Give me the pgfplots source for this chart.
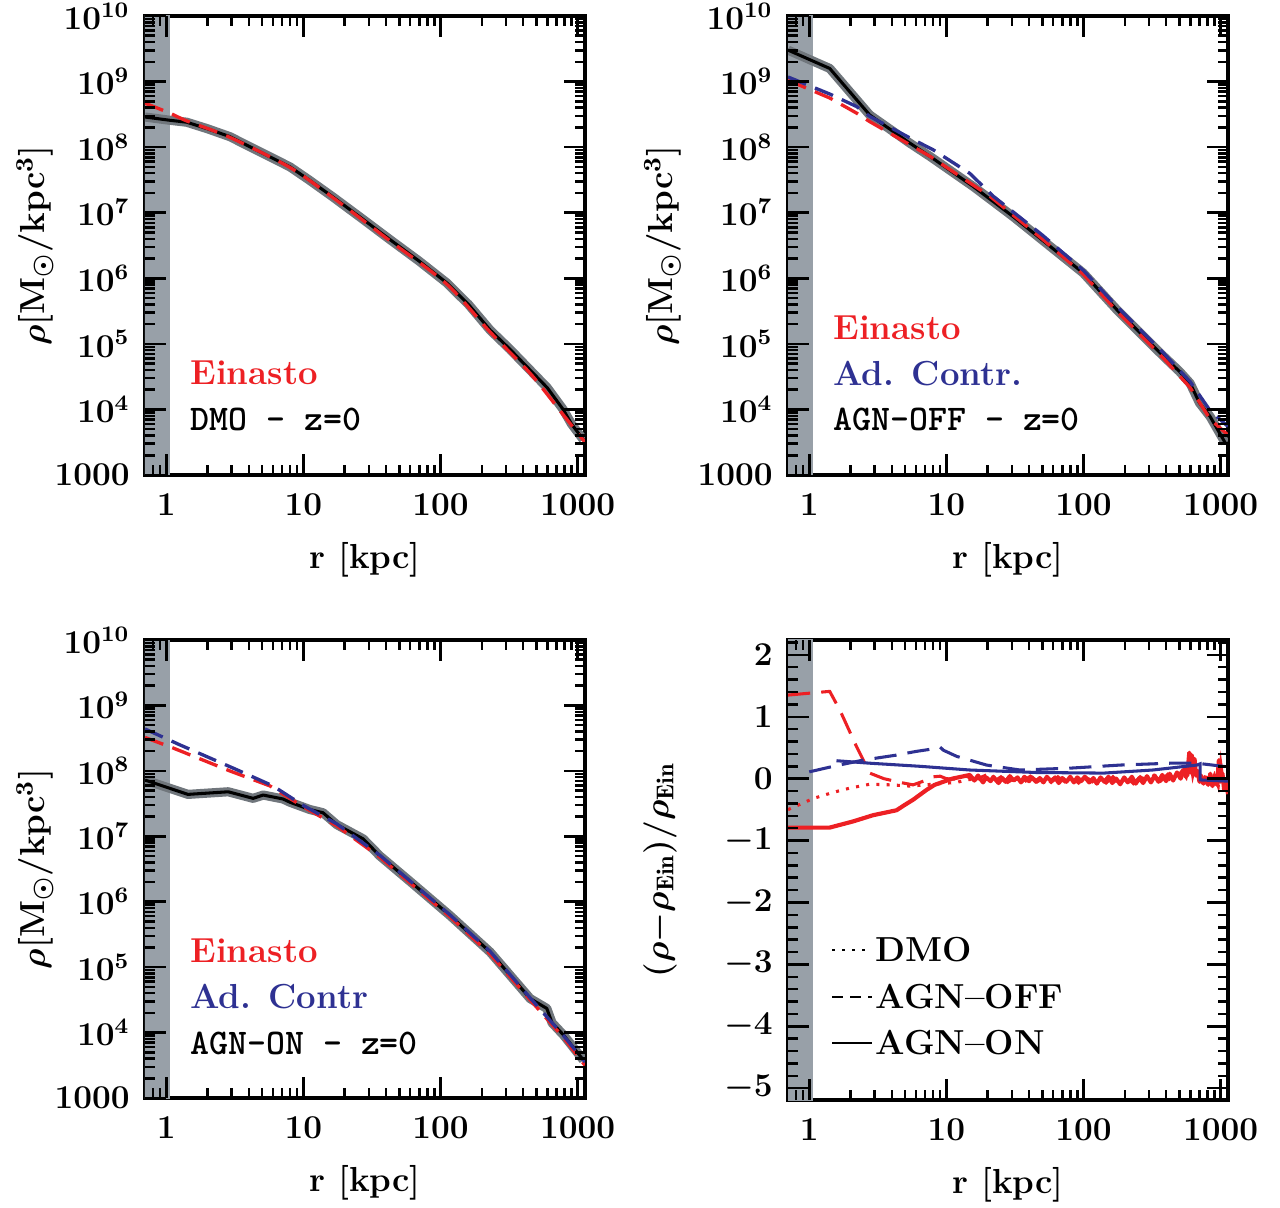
\documentclass[border=0pt]{standalone}
\usepackage{fontspec}
\usepackage{pgfplots}
\usepackage{pgfplotstable}
\pgfplotsset{compat=1.18}

\definecolor{myred}{RGB}{237,32,36}
\definecolor{myblue}{RGB}{46,49,146}
\definecolor{bandgray}{RGB}{152,160,168}
\definecolor{halogray}{RGB}{112,118,124}

\newcommand{\lbl}{\fontsize{12.5}{14}\selectfont\bfseries\boldmath}
\newcommand{\tkl}{\fontsize{12}{14}\selectfont\bfseries\boldmath}
\newcommand{\mon}{\fontsize{13}{15}\selectfont\ttfamily\bfseries}

\pgfplotsset{
  every axis/.append style={
    scale only axis, width=158.4pt,
    xmin=0.7, xmax=1130,
    xtick={1,10,100,1000}, xticklabels={1,10,100,1000},
    tick align=inside,
    major tick length=7.5pt, minor tick length=3.6pt,
    every tick/.style={black, line width=0.9pt},
    axis line style={line width=1.1pt},
    tick label style={font=\tkl},
    xticklabel style={yshift=-3pt},
    yticklabel style={xshift=-2pt},
    label style={font=\lbl},
    xlabel={r [kpc]},
    xlabel style={at={(axis description cs:0.5,-0.185)}, anchor=center},
  },
}
\tikzset{
  tk/.style={black, line width=0.9pt},
  rsHalo/.style={draw=halogray, line width=3.3pt, line join=round},
  rsBlk/.style={draw=black, line width=1.1pt, line join=round},
  rsRed/.style={draw=myred, line width=1.2pt, dash pattern=on 7pt off 3.5pt},
  rsBlue/.style={draw=myblue, line width=1.2pt, dash pattern=on 7pt off 3.5pt},
}

% tick marks on bottom and top edges (arguments: ymin, ymax)
\newcommand{\xticksall}[2]{%
  \pgfplotsinvokeforeach{1,10,100,1000}{%
    \draw[tk] (axis cs:##1,#1) -- ([yshift=7.5pt]axis cs:##1,#1);
    \draw[tk] (axis cs:##1,#2) -- ([yshift=-7.5pt]axis cs:##1,#2);}%
  \pgfplotsinvokeforeach{0.8,0.9,2,3,4,5,6,7,8,9,20,30,40,50,60,70,80,90,200,300,400,500,600,700,800,900}{%
    \draw[tk] (axis cs:##1,#1) -- ([yshift=3.6pt]axis cs:##1,#1);
    \draw[tk] (axis cs:##1,#2) -- ([yshift=-3.6pt]axis cs:##1,#2);}%
}
% tick marks on left and right edges of the log-density panels
\newcommand{\ylogticks}{%
  \pgfplotsinvokeforeach{1e3,1e4,1e5,1e6,1e7,1e8,1e9,1e10}{%
    \draw[tk] (axis cs:0.7,##1) -- ([xshift=7.5pt]axis cs:0.7,##1);
    \draw[tk] (axis cs:1130,##1) -- ([xshift=-7.5pt]axis cs:1130,##1);}%
  \pgfplotsinvokeforeach{2e3,3e3,4e3,5e3,6e3,7e3,8e3,9e3,
                 2e4,3e4,4e4,5e4,6e4,7e4,8e4,9e4,
                 2e5,3e5,4e5,5e5,6e5,7e5,8e5,9e5,
                 2e6,3e6,4e6,5e6,6e6,7e6,8e6,9e6,
                 2e7,3e7,4e7,5e7,6e7,7e7,8e7,9e7,
                 2e8,3e8,4e8,5e8,6e8,7e8,8e8,9e8,
                 2e9,3e9,4e9,5e9,6e9,7e9,8e9,9e9}{%
    \draw[tk] (axis cs:0.7,##1) -- ([xshift=3.6pt]axis cs:0.7,##1);
    \draw[tk] (axis cs:1130,##1) -- ([xshift=-3.6pt]axis cs:1130,##1);}%
}
% tick marks on left and right edges of the residual panel
\newcommand{\ylinticks}{%
  \pgfplotsinvokeforeach{-5,-4,-3,-2,-1,0,1,2}{%
    \draw[tk] (axis cs:0.7,##1) -- ([xshift=7.5pt]axis cs:0.7,##1);
    \draw[tk] (axis cs:1130,##1) -- ([xshift=-7.5pt]axis cs:1130,##1);}%
  \pgfplotsinvokeforeach{-4.8,-4.6,-4.4,-4.2,-3.8,-3.6,-3.4,-3.2,-2.8,-2.6,-2.4,-2.2,-1.8,-1.6,-1.4,-1.2,-0.8,-0.6,-0.4,-0.2,0.2,0.4,0.6,0.8,1.2,1.4,1.6,1.8,2.2}{%
    \draw[tk] (axis cs:0.7,##1) -- ([xshift=3.6pt]axis cs:0.7,##1);
    \draw[tk] (axis cs:1130,##1) -- ([xshift=-3.6pt]axis cs:1130,##1);}%
}

% ---------- data ----------
\pgfplotstableread{
r rho
0.70 2.88e8
1.06 2.57e8
1.41 2.40e8
2.0 1.905e8
2.91 1.445e8
4.5 9.12e7
7.97 5.01e7
11.0 3.16e7
16.4 1.74e7
26 8.51e6
42.8 3.89e6
70 1.82e6
111 8.51e5
160 3.98e5
230 1.62e5
320 8.32e4
450 3.98e4
600 2.14e4
783 1.00e4
900 6.03e3
1097 3.47e3
}\dmoblack
\pgfplotstableread{
r rho
0.70 4.68e8
1.06 3.31e8
1.41 2.51e8
2.91 1.41e8
7.97 4.90e7
16.4 1.70e7
42.8 3.72e6
111 8.13e5
230 1.51e5
450 3.55e4
783 8.32e3
1130 3.16e3
}\dmored
\pgfplotstableread{
r rho
0.70 3.02e9
1.41 1.585e9
2.76 3.09e8
5.42 1.148e8
7.58 7.24e7
15.7 2.51e7
30.7 8.71e6
60 2.82e6
99.7 1.20e6
175 3.31e5
383 6.46e4
500 3.80e4
598 2.51e4
700 1.26e4
838 7.76e3
1079 3.09e3
}\offblack
\pgfplotstableread{
r rho
0.70 1.047e9
1.41 5.62e8
2.21 3.31e8
2.76 2.45e8
7.6 7.24e7
20.8 1.78e7
50 3.98e6
99.7 1.148e6
175 3.16e5
383 6.03e4
600 2.14e4
838 7.08e3
1130 4.07e3
}\offred
\pgfplotstableread{
r rho
0.70 1.175e9
1.41 6.46e8
2.21 4.17e8
2.76 2.95e8
5.42 1.38e8
8.0 9.12e7
14.8 3.98e7
22 1.78e7
50 4.57e6
99.7 1.318e6
175 3.72e5
383 7.24e4
600 2.63e4
838 9.55e3
1130 5.50e3
}\offblue
\pgfplotstableread{
r rho
0.70 7.24e7
1.44 4.37e7
2.83 4.79e7
4.3 3.80e7
5.09 4.27e7
7.1 3.72e7
8.0 3.31e7
11.1 2.57e7
13.9 2.29e7
17.5 1.51e7
27.3 9.12e6
36.1 5.01e6
60 2.04e6
117 6.17e5
230 1.70e5
450 3.31e4
595 2.34e4
650 1.41e4
790 9.12e3
1100 3.80e3
}\onblack
\pgfplotstableread{
r rho
0.70 3.24e8
1.12 2.24e8
2.9 1.0e8
5.7 5.89e7
10 2.82e7
17.5 1.445e7
36.1 4.79e6
117 5.89e5
230 1.585e5
450 3.16e4
790 8.32e3
1130 3.16e3
}\onred
\pgfplotstableread{
r rho
0.70 4.37e8
1.25 2.51e8
3.25 1.047e8
6.0 5.89e7
10 2.95e7
17.5 1.55e7
36.1 5.13e6
117 6.31e5
230 1.74e5
450 3.39e4
790 8.91e3
1130 3.55e3
}\onblue

\begin{document}
\begin{tikzpicture}
\path[use as bounding box] (0,0) rectangle (460.8pt,434.52pt);

% ================= top left : DMO =================
\begin{loglogaxis}[height=165.24pt,
  at={(52.2pt,263.52pt)}, anchor=south west,
  ymin=1000, ymax=1e10,
  ytick={1e3,1e4,1e5,1e6,1e7,1e8,1e9,1e10},
  yticklabels={$1000$,$10^{4}$,$10^{5}$,$10^{6}$,$10^{7}$,$10^{8}$,$10^{9}$,$10^{10}$},
  ylabel={$\rho$[M$_{\odot}$/kpc$^{3}$]},
  ylabel style={at={(axis description cs:-0.25,0.5)}, anchor=center}]
\addplot[fill=bandgray, draw=none, forget plot] coordinates {(0.5,100) (1.06,100) (1.06,1e11) (0.5,1e11)} -- cycle;
\addplot[rsHalo, forget plot] table[x=r,y=rho] {\dmoblack};
\addplot[rsBlk] table[x=r,y=rho] {\dmoblack};
\addplot[rsRed, smooth] table[x=r,y=rho] {\dmored};
\xticksall{1000}{1e10}
\ylogticks
\node[anchor=west, font=\lbl, text=myred, inner sep=0pt] at (rel axis cs:0.102,0.222) {Einasto};
\node[anchor=west, font=\mon, inner sep=0pt] at (rel axis cs:0.102,0.120) {DMO – z=0};
\end{loglogaxis}

% ================= top right : AGN-OFF =================
\begin{loglogaxis}[height=165.24pt,
  at={(283.68pt,263.52pt)}, anchor=south west,
  ymin=1000, ymax=1e10,
  ytick={1e3,1e4,1e5,1e6,1e7,1e8,1e9,1e10},
  yticklabels={$1000$,$10^{4}$,$10^{5}$,$10^{6}$,$10^{7}$,$10^{8}$,$10^{9}$,$10^{10}$},
  ylabel={$\rho$[M$_{\odot}$/kpc$^{3}$]},
  ylabel style={at={(axis description cs:-0.285,0.5)}, anchor=center}]
\addplot[fill=bandgray, draw=none, forget plot] coordinates {(0.5,100) (1.06,100) (1.06,1e11) (0.5,1e11)} -- cycle;
\addplot[rsHalo, forget plot] table[x=r,y=rho] {\offblack};
\addplot[rsBlk] table[x=r,y=rho] {\offblack};
\addplot[rsRed] table[x=r,y=rho] {\offred};
\addplot[rsBlue] table[x=r,y=rho] {\offblue};
\xticksall{1000}{1e10}
\ylogticks
\node[anchor=west, font=\lbl, text=myred, inner sep=0pt] at (rel axis cs:0.102,0.320) {Einasto};
\node[anchor=west, font=\lbl, text=myblue, inner sep=0pt] at (rel axis cs:0.102,0.220) {Ad. Contr.};
\node[anchor=west, font=\mon, inner sep=0pt] at (rel axis cs:0.102,0.120) {AGN–OFF – z=0};
\end{loglogaxis}

% ================= bottom left : AGN-ON =================
\begin{loglogaxis}[height=164.88pt,
  at={(52.2pt,39.24pt)}, anchor=south west,
  ymin=1000, ymax=1e10,
  ytick={1e3,1e4,1e5,1e6,1e7,1e8,1e9,1e10},
  yticklabels={$1000$,$10^{4}$,$10^{5}$,$10^{6}$,$10^{7}$,$10^{8}$,$10^{9}$,$10^{10}$},
  ylabel={$\rho$[M$_{\odot}$/kpc$^{3}$]},
  ylabel style={at={(axis description cs:-0.25,0.5)}, anchor=center}]
\addplot[fill=bandgray, draw=none, forget plot] coordinates {(0.5,100) (1.06,100) (1.06,1e11) (0.5,1e11)} -- cycle;
\addplot[rsHalo, forget plot] table[x=r,y=rho] {\onblack};
\addplot[rsBlk] table[x=r,y=rho] {\onblack};
\addplot[rsRed] table[x=r,y=rho] {\onred};
\addplot[rsBlue] table[x=r,y=rho] {\onblue};
\xticksall{1000}{1e10}
\ylogticks
\node[anchor=west, font=\lbl, text=myred, inner sep=0pt] at (rel axis cs:0.102,0.321) {Einasto};
\node[anchor=west, font=\lbl, text=myblue, inner sep=0pt] at (rel axis cs:0.102,0.221) {Ad. Contr};
\node[anchor=west, font=\mon, inner sep=0pt] at (rel axis cs:0.102,0.120) {AGN–ON – z=0};
\end{loglogaxis}

% ================= bottom right : residuals =================
\begin{semilogxaxis}[height=165.6pt,
  at={(283.68pt,38.52pt)}, anchor=south west,
  ymin=-5.19, ymax=2.24, ytick={-5,-4,-3,-2,-1,0,1,2}, minor y tick num=4,
  ylabel={$(\rho{-}\rho_{\mathrm{Ein}})/\rho_{\mathrm{Ein}}$},
  ylabel style={at={(axis description cs:-0.291,0.5)}, anchor=center}]
\addplot[fill=bandgray, draw=none, forget plot] coordinates {(0.5,-6) (1.06,-6) (1.06,3) (0.5,3)} -- cycle;
% DMO (dotted red)
\addplot[myred, line width=1.1pt, dash pattern=on 1.1pt off 2.6pt] coordinates {
(0.70,-0.50)(1.07,-0.32)(1.5,-0.22)(2.0,-0.15)(2.76,-0.09)(4,-0.10)(5.42,-0.12)(7,-0.10)(9,-0.08)(11.9,-0.06)(14,-0.02)(17,0.0)
(20,-0.04)(23,0.02)(27,-0.05)(31,0.03)(36,-0.06)(42,0.01)(49,-0.05)(57,0.03)(66,-0.06)(77,0.02)(90,-0.05)(105,0.02)(122,-0.07)(142,0.02)(165,-0.06)(192,0.01)(224,-0.07)(260,0.03)(302,-0.05)(350,0.04)(407,-0.04)(470,0.08)(545,0.0)(610,0.2)(660,0.0)(720,-0.05)(800,0.04)(880,-0.1)(960,0.02)(1050,-0.12)(1130,-0.15)};
% AGN-OFF (dashed red)
\addplot[myred, line width=1.1pt, dash pattern=on 8pt off 4pt] coordinates {
(0.70,1.35)(1.41,1.41)(1.67,1.11)(2.21,0.52)(2.76,0.09)(3.5,0.0)(4.84,-0.07)(5.72,-0.10)(7.0,-0.03)(8.0,0.03)(9.0,0.04)(10,0.0)(11.9,-0.01)(14,0.04)(16,-0.02)(19.6,0.06)
(22,-0.05)(25,0.03)(28,-0.06)(32,0.02)(36,-0.04)(41,0.04)(46,-0.05)(52,0.02)(58,-0.06)(65,0.03)(73,-0.05)(82,0.02)(92,-0.07)(103,0.03)(116,-0.05)(130,0.02)(146,-0.07)(164,0.03)(184,-0.06)(206,0.02)(231,-0.08)(259,0.03)(290,-0.06)(325,0.05)(365,-0.04)(410,0.07)(460,-0.02)(520,0.12)(560,0.02)(600,0.30)(625,0.05)(655,0.25)(690,0.0)(730,-0.06)(780,0.05)(840,-0.09)(900,0.06)(960,-0.12)(1000,0.25)(1050,-0.1)(1130,-0.2)};
% AGN-ON (solid red)
\addplot[myred, line width=1.5pt, line join=round] coordinates {
(0.70,-0.79)(1.41,-0.79)(2.09,-0.69)(2.92,-0.59)(4.33,-0.51)(5.0,-0.42)(5.72,-0.34)(7.18,-0.18)(8.2,-0.10)(9.5,-0.05)(11,0.0)
(14.8,0.06)(16,-0.03)(17,0.05)(18.5,-0.06)(19.5,0.02)(21,-0.04)(22,0.03)(24,-0.07)(25.5,0.01)(27,-0.05)(29,0.04)(31,-0.03)(33,0.02)(35,-0.06)(37,0.03)(40,-0.04)(42,0.02)(45,-0.05)(48,0.01)(51,-0.06)(54,0.03)(58,-0.04)(62,0.02)(66,-0.07)(70,0.01)(75,-0.05)(80,0.03)(85,-0.06)(90,0.02)(96,-0.04)(102,0.03)(110,-0.06)(118,0.01)(125,-0.08)(133,0.02)(142,-0.05)(152,0.03)(162,-0.07)(173,0.0)(185,-0.09)(198,0.02)(210,-0.06)(225,0.03)(240,-0.08)(255,0.01)(272,-0.07)(290,0.04)(310,-0.06)(330,0.05)(352,-0.05)(375,0.06)(400,-0.04)(425,0.08)(450,-0.03)(480,0.10)(510,0.0)(540,0.15)(570,0.05)(590,0.42)(600,0.1)(615,0.38)(630,0.15)(645,0.32)(660,0.05)(680,0.12)(700,-0.05)(720,0.05)(750,-0.08)(780,0.02)(810,-0.1)(840,0.08)(870,-0.12)(900,0.03)(940,-0.1)(970,0.3)(990,-0.05)(1030,0.08)(1060,-0.18)(1100,-0.05)(1130,-0.25)};
% Ad. contr. AGN-OFF (dashed blue)
\addplot[myblue, line width=1.1pt, dash pattern=on 8pt off 4pt] coordinates {
(1.0,0.11)(1.5,0.20)(2.47,0.30)(4.3,0.38)(6,0.44)(8.5,0.49)(9,0.51)(9.5,0.46)(11.9,0.36)(19.6,0.22)(34.4,0.14)(80,0.17)(185,0.22)(430,0.25)(670,0.25)(1130,0.19)};
% Ad. contr. AGN-ON (solid blue)
\addplot[myblue, line width=1.1pt] coordinates {
(1.58,0.29)(2.76,0.25)(6.4,0.20)(14.8,0.14)(45,0.10)(140,0.09)(320,0.14)(670,0.22)(708,0.24)(708.5,-0.02)(1130,-0.04)};
\xticksall{-5.19}{2.24}
\ylinticks
% legend
\draw[black, line width=1pt, dash pattern=on 1pt off 2.6pt] (rel axis cs:0.10,0.326) -- (rel axis cs:0.19,0.326);
\draw[black, line width=1pt, dash pattern=on 4pt off 2.5pt] (rel axis cs:0.10,0.224) -- (rel axis cs:0.19,0.224);
\draw[black, line width=1pt] (rel axis cs:0.10,0.124) -- (rel axis cs:0.19,0.124);
\node[anchor=west, font=\lbl, inner sep=0pt] at (rel axis cs:0.198,0.326) {DMO};
\node[anchor=west, font=\lbl, inner sep=0pt] at (rel axis cs:0.198,0.224) {AGN--OFF};
\node[anchor=west, font=\lbl, inner sep=0pt] at (rel axis cs:0.198,0.124) {AGN--ON};
\end{semilogxaxis}
\end{tikzpicture}
\end{document}
